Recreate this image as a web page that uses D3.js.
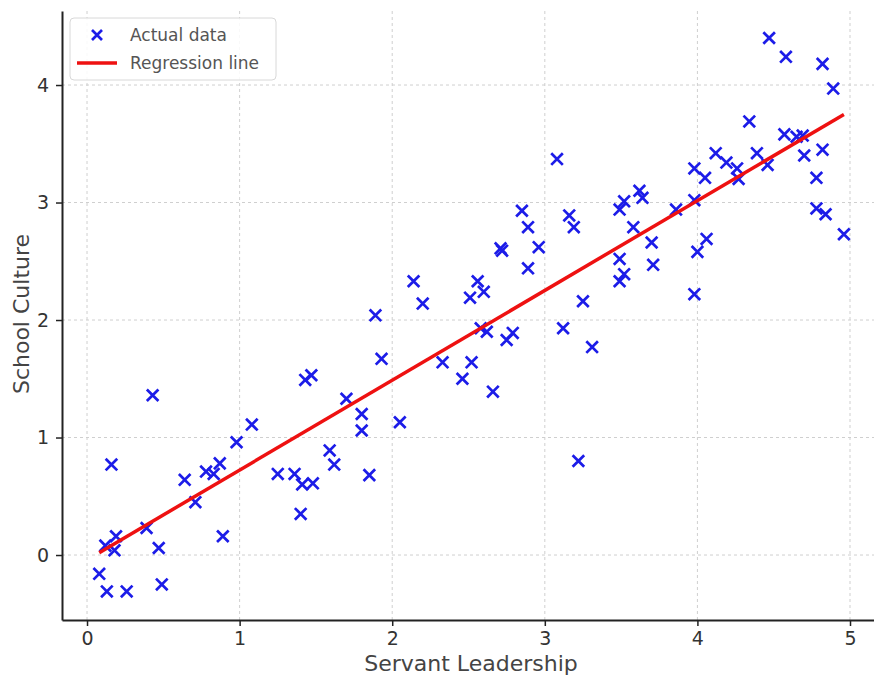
<!DOCTYPE html>
<html>
<head>
<meta charset="utf-8">
<script src="https://cdn.jsdelivr.net/npm/d3@7/dist/d3.min.js"></script>
<style>
  body { margin: 0; background: #fff; }
  text { font-family: "DejaVu Sans", sans-serif; }
</style>
</head>
<body>
<svg id="chart" width="874" height="675"></svg>
<script>
// servant leadership (x) and school culture (y) scores
var leadership = [
  0.08, 0.13, 0.26, 0.49, 0.16, 0.19, 0.12, 0.18, 0.39, 0.47,
  0.43, 0.64, 0.71, 0.78, 0.83, 0.87, 0.89, 0.98, 1.08, 1.25,
  1.36, 1.40, 1.41, 1.48, 1.43, 1.47, 1.59, 1.62, 1.70, 1.80,
  1.80, 1.85, 1.89, 1.93, 2.05, 2.14, 2.20, 2.33, 2.46, 2.51,
  2.52, 2.56, 2.60, 2.58, 2.62, 2.66, 2.71, 2.72, 2.75, 2.79,
  2.85, 2.89, 2.89, 2.96, 3.08, 3.12, 3.16, 3.19, 3.22, 3.25,
  3.31, 3.49, 3.52, 3.49, 3.52, 3.49, 3.58, 3.62, 3.64, 3.70,
  3.71, 3.86, 3.98, 3.98, 4.05, 4.06, 4.00, 3.98, 4.12, 4.19,
  4.26, 4.27, 4.34, 4.39, 4.46, 4.47, 4.58, 4.57, 4.65, 4.69,
  4.70, 4.78, 4.82, 4.78, 4.84, 4.82, 4.89, 4.96
];
var culture = [
  -0.16, -0.31, -0.31, -0.25, 0.77, 0.16, 0.08, 0.04, 0.23, 0.06,
  1.36, 0.64, 0.45, 0.71, 0.69, 0.78, 0.16, 0.96, 1.11, 0.69,
  0.69, 0.35, 0.60, 0.61, 1.49, 1.53, 0.89, 0.77, 1.33, 1.20,
  1.06, 0.68, 2.04, 1.67, 1.13, 2.33, 2.14, 1.64, 1.50, 2.19,
  1.64, 2.33, 2.24, 1.93, 1.90, 1.39, 2.61, 2.59, 1.83, 1.89,
  2.93, 2.79, 2.44, 2.62, 3.37, 1.93, 2.89, 2.79, 0.80, 2.16,
  1.77, 2.94, 3.01, 2.52, 2.39, 2.33, 2.79, 3.10, 3.04, 2.66,
  2.47, 2.94, 3.29, 3.02, 3.21, 2.69, 2.58, 2.22, 3.42, 3.34,
  3.29, 3.20, 3.69, 3.42, 3.32, 4.40, 4.24, 3.58, 3.56, 3.57,
  3.40, 3.21, 3.45, 2.95, 2.90, 4.18, 3.97, 2.73
];

// regression line end points
var lineX = [0.08, 4.96];
var lineY = [0.02, 3.75];

var xTicks = [0, 1, 2, 3, 4, 5];
var yTicks = [0, 1, 2, 3, 4];

var svg = d3.select("#chart");
var plotL = 62, plotR = 879, plotT = 11, plotB = 620;

var x = d3.scaleLinear().domain([-0.164, 5.19]).range([plotL, plotR]);
var y = d3.scaleLinear().domain([-0.553, 4.63]).range([plotB, plotT]);

// grid
svg.append("g").selectAll("line").data(xTicks).enter().append("line")
  .attr("x1", function (d) { return x(d); })
  .attr("x2", function (d) { return x(d); })
  .attr("y1", plotT).attr("y2", plotB)
  .style("stroke", "#cfcfcf").style("stroke-width", 1)
  .style("stroke-dasharray", "3,3");

svg.append("g").selectAll("line").data(yTicks).enter().append("line")
  .attr("y1", function (d) { return y(d); })
  .attr("y2", function (d) { return y(d); })
  .attr("x1", plotL).attr("x2", plotR)
  .style("stroke", "#cfcfcf").style("stroke-width", 1)
  .style("stroke-dasharray", "3,3");

// axes
var xAxis = svg.append("g")
  .attr("transform", "translate(0," + plotB + ")")
  .call(d3.axisBottom(x).tickValues(xTicks).tickSizeInner(6).tickSizeOuter(0).tickPadding(6).tickFormat(d3.format("d")));
var yAxis = svg.append("g")
  .attr("transform", "translate(" + plotL + ",0)")
  .call(d3.axisLeft(y).tickValues(yTicks).tickSizeInner(6).tickSizeOuter(0).tickPadding(7).tickFormat(d3.format("d")));

[xAxis, yAxis].forEach(function (a) {
  a.select(".domain").style("stroke", "#222").style("stroke-width", 2);
  a.selectAll(".tick line").style("stroke", "#222").style("stroke-width", 1.5);
  a.selectAll(".tick text").style("font-size", "19px").style("fill", "#333")
    .style("font-family", "DejaVu Sans");
});

// axis labels
svg.append("text")
  .attr("x", 471).attr("y", 671)
  .attr("text-anchor", "middle")
  .style("font-size", "22px").style("fill", "#444")
  .text("Servant Leadership");

svg.append("text")
  .attr("transform", "translate(29,314)rotate(-90)")
  .attr("text-anchor", "middle")
  .style("font-size", "22px").style("fill", "#444")
  .text("School Culture");

// data points as x markers
var pts = leadership.map(function (d, i) { return [d, culture[i]]; });
var s = 5.8;
svg.append("g").selectAll("path").data(pts).enter().append("path")
  .attr("d", function (d) {
    var px = x(d[0]), py = y(d[1]);
    return "M" + (px - s) + "," + (py - s) + "L" + (px + s) + "," + (py + s) +
      "M" + (px - s) + "," + (py + s) + "L" + (px + s) + "," + (py - s);
  })
  .style("stroke", "#1c1ce8").style("stroke-width", 2.7).style("fill", "none");

// regression line
var line = d3.line()
  .x(function (d) { return x(d[0]); })
  .y(function (d) { return y(d[1]); });

svg.append("path")
  .datum(lineX.map(function (d, i) { return [d, lineY[i]]; }))
  .attr("d", line)
  .style("fill", "none")
  .style("stroke", "#ee1111")
  .style("stroke-width", 3.5);

// legend
var lg = svg.append("g");
lg.append("rect")
  .attr("x", 70).attr("y", 18).attr("width", 206).attr("height", 62)
  .attr("rx", 4)
  .style("fill", "#fff").style("fill-opacity", 0.85)
  .style("stroke", "#d8d8d8").style("stroke-width", 1);
lg.append("path")
  .attr("d", "M" + (97 - 5) + "," + (35 - 5) + "L" + (97 + 5) + "," + (35 + 5) +
    "M" + (97 - 5) + "," + (35 + 5) + "L" + (97 + 5) + "," + (35 - 5))
  .style("stroke", "#1c1ce8").style("stroke-width", 2.7);
lg.append("line")
  .attr("x1", 77).attr("x2", 117).attr("y1", 63).attr("y2", 63)
  .style("stroke", "#ee1111").style("stroke-width", 3.5);
lg.append("text").attr("x", 130).attr("y", 41)
  .style("font-size", "17px").style("fill", "#555").text("Actual data");
lg.append("text").attr("x", 130).attr("y", 69)
  .style("font-size", "17px").style("fill", "#555").text("Regression line");
</script>
</body>
</html>
